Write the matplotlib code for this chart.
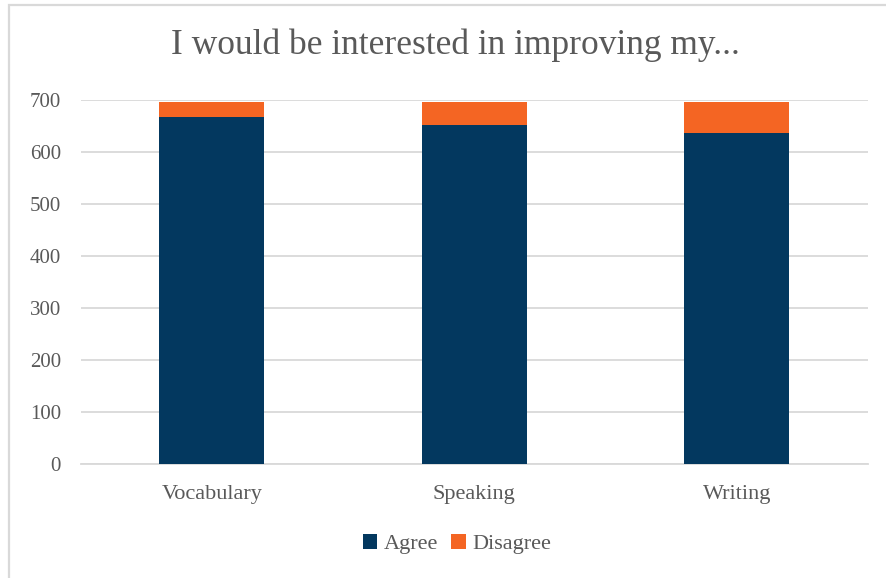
import matplotlib
matplotlib.use("Agg")
import matplotlib.pyplot as plt
from matplotlib.patches import Rectangle

categories = ["Vocabulary", "Speaking", "Writing"]
agree = [668, 651, 637]
disagree = [29, 46, 60]
yticks = [0, 100, 200, 300, 400, 500, 600, 700]

NAVY = "#03385F"
ORANGE = "#F46523"
TEXT = "#595959"
GRID = "#D9D9D9"

plt.rcParams["font.family"] = ["Liberation Serif", "DejaVu Serif"]

W, H = 886, 578
fig = plt.figure(figsize=(W / 100, H / 100), dpi=100)

# chart frame (light gray border)
fig.patches.append(Rectangle((9 / W, -0.05), 1.2, 1 - 5.5 / H + 0.05,
                             transform=fig.transFigure, fill=False,
                             edgecolor=GRID, linewidth=1.6))

ax = fig.add_axes([80.5 / W, 1 - 464 / H, (868 - 80.5) / W, (464 - 100) / H])

x = range(len(categories))
ax.bar(x, agree, width=0.4, color=NAVY, label="Agree", zorder=3)
ax.bar(x, disagree, width=0.4, bottom=agree, color=ORANGE, label="Disagree", zorder=3)

ax.set_xlim(-0.5, len(categories) - 0.5)
ax.set_ylim(0, 700)
ax.set_yticks(yticks)
ax.set_yticklabels([str(v) for v in yticks])
ax.set_xticks(list(x))
ax.set_xticklabels(categories)
ax.yaxis.grid(True, color=GRID, linewidth=1.3, zorder=0)
ax.set_axisbelow(True)
for s in ["top", "right", "left"]:
    ax.spines[s].set_visible(False)
ax.spines["bottom"].set_color(GRID)
ax.spines["bottom"].set_linewidth(1.3)
ax.tick_params(axis="both", length=0, colors=TEXT)
ax.tick_params(axis="y", pad=14, labelsize=15)
ax.tick_params(axis="x", pad=15, labelsize=16)

fig.text(455 / W, 1 - 45 / H, "I would be interested in improving my...",
         ha="center", va="center", fontsize=25.5, color=TEXT)

fig.legend(loc="center", bbox_to_anchor=(457 / W, 1 - 544 / H), ncol=2,
           frameon=False, fontsize=16, labelcolor=TEXT,
           handlelength=0.65, handleheight=0.65, handletextpad=0.3,
           columnspacing=0.6)

fig.savefig("out.png", dpi=100)
